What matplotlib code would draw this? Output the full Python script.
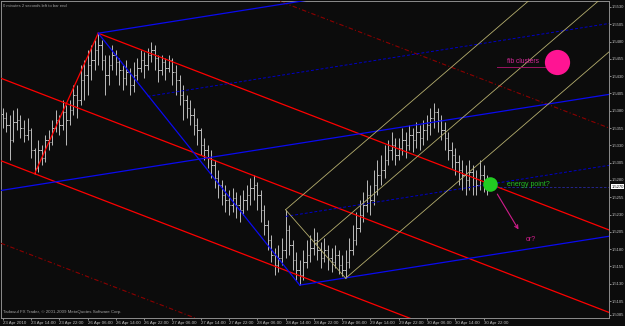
import numpy as np
import matplotlib.pyplot as plt
from matplotlib import transforms

# H1 bars, 23-30 Apr 2010, prices in pips (x 0.0001)
high = [15384, 15378, 15374, 15381, 15384, 15374, 15367, 15369, 15355, 15326,
        15338, 15330, 15345, 15352, 15367, 15381, 15374, 15396, 15388, 15396,
        15417, 15417, 15446, 15453, 15468, 15475, 15482, 15492,
        15482, 15461, 15461, 15475, 15468, 15456, 15446, 15453, 15442, 15450,
        15456, 15468, 15465, 15471, 15479, 15475, 15461, 15461, 15456, 15461,
        15456, 15446, 15432, 15417,
        15403, 15396, 15384, 15369, 15355, 15341, 15330, 15323, 15309, 15294,
        15280, 15273, 15265, 15268, 15263, 15258, 15265, 15273, 15283, 15287,
        15277, 15265,
        15244, 15222, 15200, 15182, 15186, 15196, 15237, 15215, 15193, 15176, 15164, 15179,
        15193, 15200, 15211, 15205, 15190, 15196, 15186, 15182, 15186, 15179, 15172, 15179,
        15196, 15215, 15234, 15251, 15263, 15280, 15273, 15294, 15309, 15316,
        15330, 15338, 15349, 15341, 15341, 15355, 15349, 15359, 15355, 15364, 15359, 15367,
        15374, 15384, 15391, 15384, 15374,
        15364, 15349, 15335, 15326, 15316, 15309, 15302, 15309, 15302, 15294, 15309, 15302, 15287]
low = [15355, 15349, 15309, 15335, 15352, 15341, 15335, 15338, 15312, 15289,
       15291, 15302, 15306, 15323, 15330, 15349, 15345, 15352, 15330, 15359,
       15374, 15369, 15388, 15396, 15403, 15424, 15439, 15446,
       15439, 15403, 15417, 15439, 15432, 15417, 15410, 15417, 15403, 15407,
       15424, 15436, 15427, 15439, 15450, 15439, 15422, 15432, 15424, 15436,
       15417, 15403, 15388, 15367,
       15369, 15359, 15345, 15330, 15316, 15309, 15297, 15283, 15268, 15254,
       15244, 15234, 15229, 15234, 15225, 15219, 15229, 15237, 15244, 15251,
       15237, 15219,
       15200, 15179, 15161, 15143, 15147, 15157, 15167, 15172, 15150, 15135, 15128, 15135,
       15153, 15161, 15172, 15164, 15153, 15161, 15150, 15147, 15153, 15144, 15141, 15138,
       15153, 15172, 15186, 15205, 15219, 15234, 15229, 15244, 15258, 15273,
       15283, 15302, 15309, 15302, 15309, 15316, 15312, 15323, 15320, 15326, 15323, 15330,
       15338, 15345, 15355, 15349, 15338,
       15323, 15309, 15297, 15287, 15273, 15265, 15258, 15265, 15258, 15258, 15265, 15263, 15258]
close = [15369, 15359, 15338, 15364, 15367, 15355, 15345, 15352, 15323, 15297,
         15323, 15312, 15338, 15335, 15355, 15367, 15359, 15378, 15367, 15381,
         15403, 15396, 15424, 15432, 15446, 15453, 15468, 15475,
         15453, 15432, 15446, 15461, 15450, 15439, 15427, 15436, 15417, 15432,
         15442, 15453, 15446, 15461, 15468, 15456, 15439, 15450, 15442, 15453,
         15436, 15424, 15403, 15396,
         15384, 15374, 15359, 15352, 15330, 15323, 15312, 15302, 15283, 15273,
         15258, 15251, 15244, 15254, 15244, 15237, 15251, 15258, 15268, 15273,
         15258, 15237,
         15215, 15193, 15172, 15157, 15167, 15179, 15208, 15186, 15164, 15150, 15143, 15161,
         15172, 15182, 15193, 15179, 15167, 15179, 15167, 15161, 15172, 15157, 15150, 15161,
         15179, 15193, 15211, 15229, 15244, 15258, 15251, 15273, 15287, 15294,
         15309, 15323, 15330, 15316, 15326, 15338, 15330, 15345, 15338, 15349, 15341, 15352,
         15359, 15369, 15378, 15367, 15352,
         15341, 15323, 15316, 15306, 15294, 15287, 15280, 15291, 15283, 15273, 15287, 15280, 15270]
first_open = 15375

date_labels = ["23 Apr 2010", "23 Apr 14:00", "23 Apr 22:00", "26 Apr 06:00", "26 Apr 14:00",
               "26 Apr 22:00", "27 Apr 06:00", "27 Apr 14:00", "27 Apr 22:00", "28 Apr 06:00",
               "28 Apr 14:00", "28 Apr 22:00", "29 Apr 06:00", "29 Apr 14:00", "29 Apr 22:00",
               "30 Apr 06:00", "30 Apr 14:00", "30 Apr 22:00"]
price_ticks = [1.5530, 1.5505, 1.5480, 1.5455, 1.5430, 1.5405, 1.5380, 1.5355, 1.5330,
               1.5305, 1.5280, 1.5255, 1.5230, 1.5205, 1.5180, 1.5155, 1.5130, 1.5105, 1.5085]
last_price = 1.5270

# trend objects: anchor bars and slopes (price per bar)
bar_A, bar_B, bar_C = 9, 27, 84        # swing low, swing high, swing low
bar_P1, bar_P2 = 80, 97                # yellow channel anchors
red_slope = -0.0001967
blue_slope = 0.0000807
yellow_slope = 0.000439

#################################################
FONT = ['Liberation Sans', 'DejaVu Sans']
plt.rcParams['font.family'] = FONT

h = np.array(high) / 10000
l = np.array(low) / 10000
c = np.array(close) / 10000
o = np.concatenate([[first_open / 10000], c[:-1]])
h = np.maximum(h, np.maximum(o, c))
l = np.minimum(l, np.minimum(o, c))
idx = np.arange(len(c))

BG = '#0C0C0C'
fig = plt.figure(figsize=(6.25, 3.26), dpi=100, facecolor=BG)
ax = fig.add_axes([1 / 625, 8 / 326, 608 / 625, 317 / 326])
ax.set_facecolor(BG)
XMIN, XMAX = -0.5, 171.5
ax.set_xlim(XMIN, XMAX)
ax.set_ylim(1.50805, 1.55386)

# bars
bar_col = '#BCBCBC'
ax.vlines(idx, l, h, color=bar_col, lw=0.7, zorder=2)
ax.hlines(o, idx - 0.4, idx, color=bar_col, lw=0.7, zorder=2)
ax.hlines(c, idx, idx + 0.4, color=bar_col, lw=0.7, zorder=2)


def ray(i0, p0, slope, i1=XMAX):
    return [i0, i1], [p0, p0 + slope * (i1 - i0)]


def at(i0, p0, slope, i):
    return p0 + slope * (i - i0)


A = (bar_A, l[bar_A])
B = (bar_B, h[bar_B])
C = (bar_C, l[bar_C])

# red equidistant channel
red = '#FF0000'
width_r = at(B[0], B[1], red_slope, A[0]) - A[1]
ax.plot(*ray(B[0], B[1], red_slope), color=red, lw=0.9, zorder=3)
p_bot = at(A[0], A[1], red_slope, XMIN)
ax.plot(*ray(XMIN, p_bot, red_slope), color=red, lw=0.9, zorder=3)
ax.plot(*ray(XMIN, p_bot + width_r / 2, red_slope), color=red, lw=0.9, zorder=3)
ax.plot(*ray(XMIN, p_bot - width_r / 2, red_slope), color='#8B0000', lw=0.8,
        ls=(0, (4, 2, 1, 2)), zorder=3)
ax.plot(*ray(XMIN, p_bot + width_r * 1.618, red_slope), color='#8B0000', lw=0.8,
        ls=(0, (4, 2, 1, 2)), zorder=3)

# blue channel
blue = '#0A0AF0'
width_b = at(B[0], B[1], blue_slope, C[0]) - C[1]
ax.plot(*ray(B[0], B[1], blue_slope), color=blue, lw=0.9, zorder=3)
ax.plot(*ray(C[0], C[1], blue_slope), color=blue, lw=0.9, zorder=3)
p_mid = at(C[0], C[1], blue_slope, XMIN) + width_b / 2
ax.plot(*ray(XMIN, p_mid, blue_slope), color=blue, lw=0.9, zorder=3)
q_start1, q_start2 = 41, 80
ax.plot(*ray(q_start1, at(XMIN, p_mid, blue_slope, q_start1) + width_b / 4, blue_slope),
        color='#0000C8', lw=0.7, ls=(0, (3, 2)), zorder=3)
ax.plot(*ray(q_start2, at(XMIN, p_mid, blue_slope, q_start2) - width_b / 4, blue_slope),
        color='#0000C8', lw=0.7, ls=(0, (3, 2)), zorder=3)

# zigzag
ax.plot([A[0], B[0]], [A[1], B[1]], color=red, lw=0.9, zorder=3)
ax.plot([B[0], C[0]], [B[1], C[1]], color=blue, lw=0.9, zorder=3)

# yellow channel
yel = '#B5AE6E'
P1 = (bar_P1, h[bar_P1])
P2 = (bar_P2, l[bar_P2])
Pm = ((P1[0] + P2[0]) / 2, (P1[1] + P2[1]) / 2)
for p in (P1, P2, Pm):
    ax.plot(*ray(p[0], p[1], yellow_slope), color=yel, lw=0.6, zorder=3)
ax.plot([P1[0], P2[0]], [P1[1], P2[1]], color=yel, lw=0.6, zorder=3)

# bid line
ax.plot([138, XMAX], [last_price, last_price], color='#2828A0', lw=0.6,
        ls=(0, (3, 2)), zorder=3)

# annotations
pink = '#FF1493'
ax.scatter([156.8], [1.5450], s=330, color=pink, zorder=5, linewidths=0)
ax.text(147.2, 1.5451, 'fib clusters', color='#D8289A', fontsize=4.8,
        ha='center', va='center', zorder=5)
ax.plot([139.8, 153.4], [1.5443, 1.5443], color='#9A1460', lw=0.7, zorder=4)

ax.scatter([137.8], [1.5274], s=110, color='#22CC22', zorder=5, linewidths=0)
ax.text(142.6, 1.5274, 'energy point?', color='#22C022', fontsize=5,
        ha='left', va='center', zorder=5)
ax.annotate('', xy=(146.3, 1.5205), xytext=(139.5, 1.5263),
            arrowprops=dict(arrowstyle='->', color='#D01C8B', lw=0.8,
                            mutation_scale=6), zorder=5)
ax.text(148.0, 1.5194, 'or?', color='#D01C8B', fontsize=5,
        ha='left', va='center', zorder=5)

ax.text(0.004, 0.992, '0 minutes 2 seconds left to bar end', transform=ax.transAxes,
        color='#A0A0A0', fontsize=3, ha='left', va='top')
ax.text(0.004, 0.018, 'Tadawul FX Trader, \u00a9 2001-2009 MetaQuotes Software Corp.',
        transform=ax.transAxes, color='#A0A0A0', fontsize=3.2, ha='left', va='center')

# axes styling
for s in ax.spines.values():
    s.set_color('#8C8C8C')
    s.set_linewidth(0.7)

ax.yaxis.tick_right()
ax.set_yticks(price_ticks)
ax.set_yticklabels([f'{p:.4f}' for p in price_ticks])
ax.tick_params(axis='y', colors='#C0C0C0', labelsize=3, length=1.2, width=0.5, pad=0.6)
ax.set_xticks(np.arange(0, 8 * len(date_labels), 8))
ax.set_xticklabels(date_labels)
ax.tick_params(axis='x', colors='#C0C0C0', labelsize=3.2, length=1.5, width=0.5, pad=0.5)
plt.setp(ax.get_xticklabels(), ha='left')

tr = transforms.blended_transform_factory(ax.transAxes, ax.transData)
ax.text(1.004, last_price, f'{last_price:.4f}', transform=tr, fontsize=3, color='black',
        ha='left', va='center',
        bbox=dict(boxstyle='square,pad=0.15', facecolor='white', edgecolor='none'))

fig.savefig('out.png', dpi=100, facecolor=BG)
